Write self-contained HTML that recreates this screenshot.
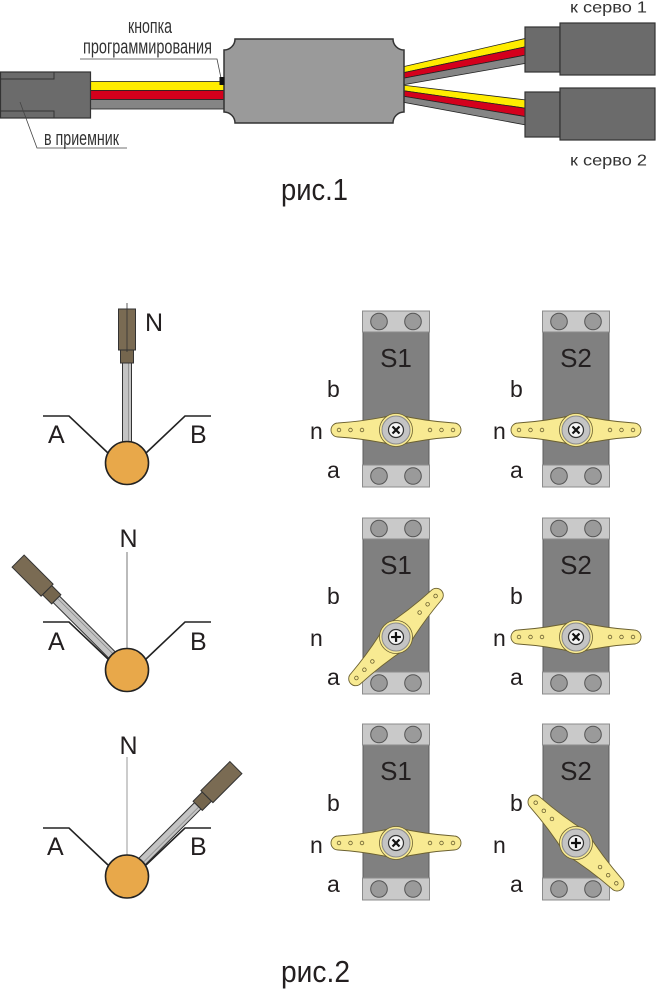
<!DOCTYPE html>
<html><head><meta charset="utf-8"><style>
html,body{margin:0;padding:0;background:#fff;width:657px;height:993px;overflow:hidden}
svg{display:block}
text{font-family:"Liberation Sans","DejaVu Sans",sans-serif;fill:#231f20}
</style></head><body>
<svg width="657" height="993" viewBox="0 0 657 993" xmlns="http://www.w3.org/2000/svg">
<defs>
<g id="servo">
 <rect x="-33" y="-98" width="66" height="133" fill="#808080" stroke="#5c5c5c" stroke-width="1"/>
 <rect x="-33.5" y="-119" width="67" height="21" fill="#c9c9c9" stroke="#8c8c8c" stroke-width="1"/>
 <rect x="-33.5" y="35" width="67" height="22" fill="#c9c9c9" stroke="#8c8c8c" stroke-width="1"/>
 <circle cx="-17" cy="-108.5" r="8.3" fill="#9a9a9a" stroke="#555" stroke-width="1"/>
 <circle cx="17" cy="-108.5" r="8.3" fill="#9a9a9a" stroke="#555" stroke-width="1"/>
 <circle cx="-17" cy="46" r="8.3" fill="#9a9a9a" stroke="#555" stroke-width="1"/>
 <circle cx="17" cy="46" r="8.3" fill="#9a9a9a" stroke="#555" stroke-width="1"/>
</g>
<g id="horn">
 <path d="M -58,-7 Q -28,-9 0,-15.5 Q 28,-9 58,-7 A 7 7 0 0 1 58 7 Q 28,9 0,15.5 Q -28,9 -58,7 A 7 7 0 0 1 -58 -7 Z" fill="#f8ea92" stroke="#6b6030" stroke-width="0.9"/>
 <circle cx="-57" cy="0" r="1.8" fill="#f8ea92" stroke="#6b6030" stroke-width="0.8"/>
 <circle cx="-45.5" cy="0" r="1.8" fill="#f8ea92" stroke="#6b6030" stroke-width="0.8"/>
 <circle cx="-34" cy="0" r="1.8" fill="#f8ea92" stroke="#6b6030" stroke-width="0.8"/>
 <circle cx="34" cy="0" r="1.8" fill="#f8ea92" stroke="#6b6030" stroke-width="0.8"/>
 <circle cx="45.5" cy="0" r="1.8" fill="#f8ea92" stroke="#6b6030" stroke-width="0.8"/>
 <circle cx="57" cy="0" r="1.8" fill="#f8ea92" stroke="#6b6030" stroke-width="0.8"/>
 <circle r="16.5" fill="#f8ea92" stroke="#6b6030" stroke-width="0.8"/>
 <circle r="14" fill="#c4c4c4" stroke="#8a8a8a" stroke-width="1"/>
 <circle r="7.5" fill="#f4f4f4" stroke="#333" stroke-width="1.2"/>
 <path d="M-3.5,-3.5 L3.5,3.5 M3.5,-3.5 L-3.5,3.5" stroke="#111" stroke-width="2.2"/>
</g>
<g id="stick">
 <rect x="-4.5" y="-100" width="9" height="92" fill="#c4c4c4" stroke="#333" stroke-width="1"/>
 <line x1="1.5" y1="-100" x2="1.5" y2="-8" stroke="#8a8a8a" stroke-width="0.8"/>
 <rect x="-6.5" y="-113" width="13" height="13" fill="#75664e" stroke="#333" stroke-width="1"/>
 <rect x="-8.5" y="-154" width="17" height="41" fill="#7a6b53" stroke="#333" stroke-width="1"/>
</g>
</defs>

<!-- ===== FIG 1 ===== -->
<!-- left wires -->
<rect x="88" y="81.5" width="138" height="9" fill="#ffec00" stroke="#222" stroke-width="0.8"/>
<rect x="88" y="90.5" width="138" height="9" fill="#d4001c" stroke="#222" stroke-width="0.8"/>
<rect x="88" y="99.5" width="138" height="9.5" fill="#858585" stroke="#222" stroke-width="0.8"/>
<!-- left connector -->
<rect x="0.5" y="72" width="90" height="46" fill="#6b6b6b" stroke="#333" stroke-width="1.2"/>
<polyline points="0,79 54,79 54,72" fill="none" stroke="#333" stroke-width="1"/>
<polyline points="0,111 54,111 54,118" fill="none" stroke="#333" stroke-width="1"/>
<!-- leader в приемник -->
<polyline points="20,102 37,148 127,148" fill="none" stroke="#444" stroke-width="0.8"/>
<text x="44" y="145" font-size="20" textLength="75" lengthAdjust="spacingAndGlyphs" style="fill:#333">в приемник</text>
<!-- labels кнопка -->
<text x="128" y="33" font-size="20" textLength="44" lengthAdjust="spacingAndGlyphs" style="fill:#333">кнопка</text>
<text x="83" y="53.5" font-size="20" textLength="129" lengthAdjust="spacingAndGlyphs" style="fill:#333">программирования</text>
<polyline points="80,59 217,59 221,78" fill="none" stroke="#444" stroke-width="0.8"/>

<!-- right harness: lower first -->
<polygon points="402,85 526,100 526,108.3 402,90.5" fill="#ffec00" stroke="#222" stroke-width="0.8"/>
<polygon points="402,90.5 526,108.3 526,116.7 402,96" fill="#d4001c" stroke="#222" stroke-width="0.8"/>
<polygon points="402,96 526,116.7 526,125 402,102" fill="#858585" stroke="#222" stroke-width="0.8"/>
<!-- upper -->
<polygon points="402,67 526,38.3 526,46.7 402,73" fill="#ffec00" stroke="#222" stroke-width="0.8"/>
<polygon points="402,73 526,46.7 526,55 402,78.5" fill="#d4001c" stroke="#222" stroke-width="0.8"/>
<polygon points="402,78.5 526,55 526,63.3 402,85" fill="#858585" stroke="#222" stroke-width="0.8"/>

<!-- body -->
<path d="M235,39 H393 A11 11 0 0 0 404 50 V112 A11 11 0 0 0 393 123 H235 A11 11 0 0 0 224 112 V50 A11 11 0 0 0 235 39 Z" fill="#9a9a9a" stroke="#333" stroke-width="1.5"/>
<rect x="219.5" y="77" width="5" height="8" fill="#111"/>

<!-- servo connectors -->
<rect x="525" y="27" width="35" height="45" fill="#6b6b6b" stroke="#333" stroke-width="1.2"/>
<rect x="560" y="23" width="95" height="52" fill="#6b6b6b" stroke="#333" stroke-width="1.2"/>
<rect x="525" y="92" width="35" height="45" fill="#6b6b6b" stroke="#333" stroke-width="1.2"/>
<rect x="560" y="88" width="95" height="52" fill="#6b6b6b" stroke="#333" stroke-width="1.2"/>
<text x="570" y="12.7" font-size="16" textLength="77" lengthAdjust="spacingAndGlyphs" style="fill:#333">к серво 1</text>
<text x="570" y="165.5" font-size="16" textLength="77" lengthAdjust="spacingAndGlyphs" style="fill:#333">к серво 2</text>

<text x="281" y="200" font-size="31" textLength="67" lengthAdjust="spacingAndGlyphs">рис.1</text>

<!-- ===== FIG 2 ===== -->
<!-- Row 1 dial -->
<polyline points="43,416 69,416 108,453" fill="none" stroke="#222" stroke-width="1.6"/>
<polyline points="146,453 185,416 211,416" fill="none" stroke="#222" stroke-width="1.6"/>
<use href="#stick" transform="translate(127,463)"/>
<line x1="127" y1="303" x2="127" y2="352" stroke="#333" stroke-width="0.8"/>
<circle cx="127" cy="463" r="21.5" fill="#e8a84a" stroke="#222" stroke-width="1.6"/>
<text x="48" y="443" font-size="25">A</text>
<text x="190" y="443" font-size="25">B</text>
<text x="145" y="331" font-size="25">N</text>

<!-- Row 2 dial -->
<line x1="127" y1="552" x2="127" y2="650" stroke="#555" stroke-width="0.8"/>
<polyline points="43,622 69,622 108,659" fill="none" stroke="#222" stroke-width="1.6"/>
<polyline points="146,659 185,622 211,622" fill="none" stroke="#222" stroke-width="1.6"/>
<use href="#stick" transform="translate(127,670) rotate(-45)"/>
<circle cx="127" cy="670" r="21.5" fill="#e8a84a" stroke="#222" stroke-width="1.6"/>
<text x="48" y="650" font-size="25">A</text>
<text x="190" y="650" font-size="25">B</text>
<text x="128.5" y="547" font-size="25" text-anchor="middle">N</text>

<!-- Row 3 dial -->
<line x1="127" y1="757" x2="127" y2="856" stroke="#999" stroke-width="1"/>
<polyline points="43,828 69,828 108,865" fill="none" stroke="#222" stroke-width="1.6"/>
<polyline points="146,865 185,828 211,828" fill="none" stroke="#222" stroke-width="1.6"/>
<use href="#stick" transform="translate(127,876.5) rotate(45)"/>
<circle cx="127" cy="876.5" r="21.5" fill="#e8a84a" stroke="#222" stroke-width="1.6"/>
<text x="47" y="855" font-size="25">A</text>
<text x="190" y="855" font-size="25">B</text>
<text x="128.5" y="754" font-size="25" text-anchor="middle">N</text>

<!-- Servos row 1 -->
<use href="#servo" transform="translate(396,430)"/>
<text x="396" y="367" font-size="26" text-anchor="middle">S1</text>
<use href="#horn" transform="translate(396,430)"/>
<use href="#servo" transform="translate(576,430)"/>
<text x="576" y="367" font-size="26" text-anchor="middle">S2</text>
<use href="#horn" transform="translate(576,430)"/>

<!-- Servos row 2 -->
<use href="#servo" transform="translate(396,637)"/>
<text x="396" y="574" font-size="26" text-anchor="middle">S1</text>
<use href="#horn" transform="translate(396,637) rotate(-46)"/>
<use href="#servo" transform="translate(576,637)"/>
<text x="576" y="574" font-size="26" text-anchor="middle">S2</text>
<use href="#horn" transform="translate(576,637)"/>

<!-- Servos row 3 -->
<use href="#servo" transform="translate(396,843)"/>
<text x="396" y="780" font-size="26" text-anchor="middle">S1</text>
<use href="#horn" transform="translate(396,843)"/>
<use href="#servo" transform="translate(576,843)"/>
<text x="576" y="780" font-size="26" text-anchor="middle">S2</text>
<use href="#horn" transform="translate(576,843) rotate(45)"/>

<!-- b n a labels -->
<g font-size="23">
<text x="327" y="397">b</text><text x="310" y="439">n</text><text x="327" y="478">a</text>
<text x="510" y="397">b</text><text x="493" y="439">n</text><text x="510" y="478">a</text>
<text x="327" y="604">b</text><text x="310" y="646">n</text><text x="327" y="685">a</text>
<text x="510" y="604">b</text><text x="493" y="646">n</text><text x="510" y="685">a</text>
<text x="327" y="811">b</text><text x="310" y="853">n</text><text x="327" y="892">a</text>
<text x="510" y="811">b</text><text x="493" y="853">n</text><text x="510" y="892">a</text>
</g>

<text x="281" y="982" font-size="31" textLength="69" lengthAdjust="spacingAndGlyphs">рис.2</text>
</svg>
</body></html>
